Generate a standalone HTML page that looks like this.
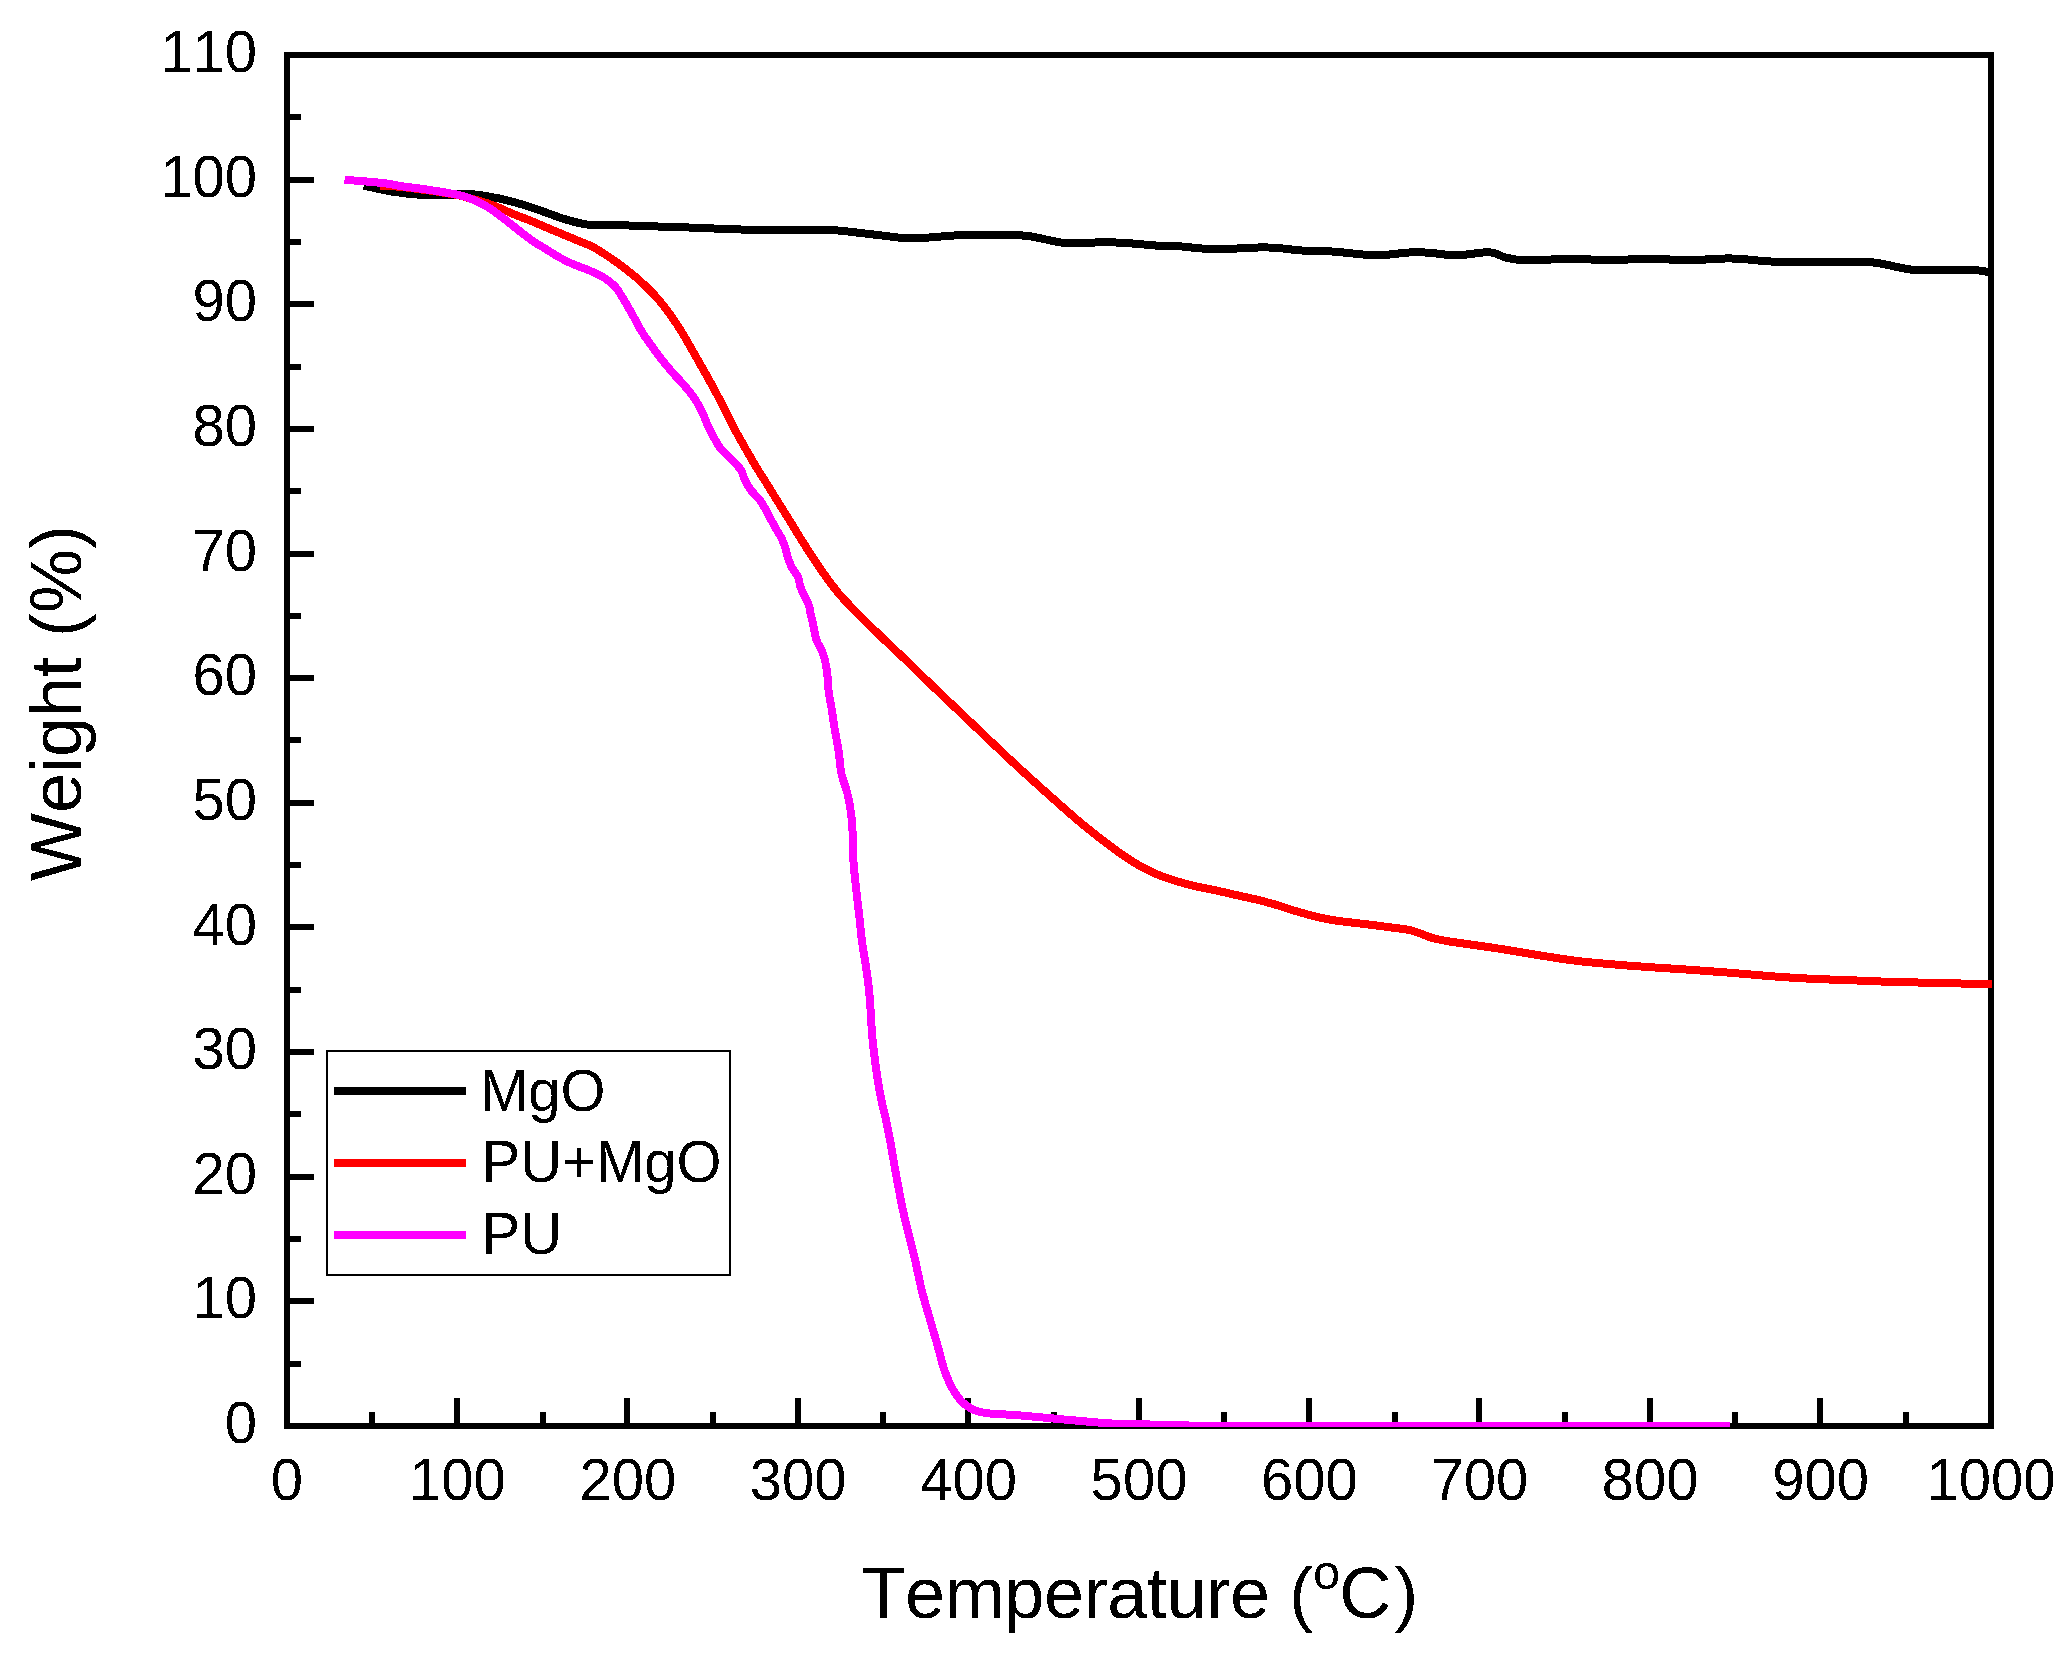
<!DOCTYPE html>
<html lang="en"><head><meta charset="utf-8"><title>TGA: Weight (%) vs Temperature</title>
<style>
html,body{margin:0;padding:0;background:#fff;}
body{width:2069px;height:1654px;overflow:hidden;}
svg{display:block;}
text{font-kerning:none;font-family:"Liberation Sans",Arial,Helvetica,sans-serif;fill:#000;}
.tk{font-size:58px;}
.ti{font-size:72px;}
</style></head><body>
<svg width="2069" height="1654" viewBox="0 0 2069 1654">
<rect width="2069" height="1654" fill="#fff"/>
<defs><filter id="th" filterUnits="userSpaceOnUse" x="0" y="0" width="2069" height="1654" color-interpolation-filters="sRGB"><feComponentTransfer><feFuncA type="discrete" tableValues="0 1"/></feComponentTransfer></filter><clipPath id="cp"><rect x="287" y="55" width="1705" height="1372"/></clipPath></defs>
<g shape-rendering="crispEdges">
<rect x="287" y="55" width="1704" height="1371" fill="none" stroke="#000" stroke-width="6"/>
<rect x="287" y="1361.0" width="14" height="6" fill="#000"/>
<rect x="287" y="1298.0" width="27" height="6" fill="#000"/>
<rect x="287" y="1236.0" width="14" height="6" fill="#000"/>
<rect x="287" y="1174.0" width="27" height="6" fill="#000"/>
<rect x="287" y="1111.0" width="14" height="6" fill="#000"/>
<rect x="287" y="1049.0" width="27" height="6" fill="#000"/>
<rect x="287" y="987.0" width="14" height="6" fill="#000"/>
<rect x="287" y="924.0" width="27" height="6" fill="#000"/>
<rect x="287" y="862.0" width="14" height="6" fill="#000"/>
<rect x="287" y="800.0" width="27" height="6" fill="#000"/>
<rect x="287" y="737.0" width="14" height="6" fill="#000"/>
<rect x="287" y="675.0" width="27" height="6" fill="#000"/>
<rect x="287" y="613.0" width="14" height="6" fill="#000"/>
<rect x="287" y="551.0" width="27" height="6" fill="#000"/>
<rect x="287" y="488.0" width="14" height="6" fill="#000"/>
<rect x="287" y="426.0" width="27" height="6" fill="#000"/>
<rect x="287" y="364.0" width="14" height="6" fill="#000"/>
<rect x="287" y="301.0" width="27" height="6" fill="#000"/>
<rect x="287" y="239.0" width="14" height="6" fill="#000"/>
<rect x="287" y="177.0" width="27" height="6" fill="#000"/>
<rect x="287" y="114.0" width="14" height="6" fill="#000"/>
<rect x="369.0" y="1412" width="6" height="14" fill="#000"/>
<rect x="454.0" y="1398" width="6" height="28" fill="#000"/>
<rect x="540.0" y="1412" width="6" height="14" fill="#000"/>
<rect x="624.0" y="1398" width="6" height="28" fill="#000"/>
<rect x="710.0" y="1412" width="6" height="14" fill="#000"/>
<rect x="795.0" y="1398" width="6" height="28" fill="#000"/>
<rect x="880.0" y="1412" width="6" height="14" fill="#000"/>
<rect x="965.0" y="1398" width="6" height="28" fill="#000"/>
<rect x="1051.0" y="1412" width="6" height="14" fill="#000"/>
<rect x="1136.0" y="1398" width="6" height="28" fill="#000"/>
<rect x="1221.0" y="1412" width="6" height="14" fill="#000"/>
<rect x="1306.0" y="1398" width="6" height="28" fill="#000"/>
<rect x="1392.0" y="1412" width="6" height="14" fill="#000"/>
<rect x="1476.0" y="1398" width="6" height="28" fill="#000"/>
<rect x="1562.0" y="1412" width="6" height="14" fill="#000"/>
<rect x="1647.0" y="1398" width="6" height="28" fill="#000"/>
<rect x="1732.0" y="1412" width="6" height="14" fill="#000"/>
<rect x="1817.0" y="1398" width="6" height="28" fill="#000"/>
<rect x="1903.0" y="1412" width="6" height="14" fill="#000"/>
</g>
<g filter="url(#th)">
<text class="tk" transform="translate(257 1443.0) scale(1 1.025)" text-anchor="end">0</text>
<text class="tk" transform="translate(257 1318.4) scale(1 1.025)" text-anchor="end">10</text>
<text class="tk" transform="translate(257 1193.7) scale(1 1.025)" text-anchor="end">20</text>
<text class="tk" transform="translate(257 1069.1) scale(1 1.025)" text-anchor="end">30</text>
<text class="tk" transform="translate(257 944.5) scale(1 1.025)" text-anchor="end">40</text>
<text class="tk" transform="translate(257 819.8) scale(1 1.025)" text-anchor="end">50</text>
<text class="tk" transform="translate(257 695.2) scale(1 1.025)" text-anchor="end">60</text>
<text class="tk" transform="translate(257 570.5) scale(1 1.025)" text-anchor="end">70</text>
<text class="tk" transform="translate(257 445.9) scale(1 1.025)" text-anchor="end">80</text>
<text class="tk" transform="translate(257 321.3) scale(1 1.025)" text-anchor="end">90</text>
<text class="tk" transform="translate(257 196.6) scale(1 1.025)" text-anchor="end">100</text>
<text class="tk" transform="translate(257 72.0) scale(1 1.025)" text-anchor="end">110</text>
<text class="tk" transform="translate(287.0 1499.5) scale(1 1.025)" text-anchor="middle">0</text>
<text class="tk" transform="translate(457.4 1499.5) scale(1 1.025)" text-anchor="middle">100</text>
<text class="tk" transform="translate(627.8 1499.5) scale(1 1.025)" text-anchor="middle">200</text>
<text class="tk" transform="translate(798.2 1499.5) scale(1 1.025)" text-anchor="middle">300</text>
<text class="tk" transform="translate(968.6 1499.5) scale(1 1.025)" text-anchor="middle">400</text>
<text class="tk" transform="translate(1139.0 1499.5) scale(1 1.025)" text-anchor="middle">500</text>
<text class="tk" transform="translate(1309.4 1499.5) scale(1 1.025)" text-anchor="middle">600</text>
<text class="tk" transform="translate(1479.8 1499.5) scale(1 1.025)" text-anchor="middle">700</text>
<text class="tk" transform="translate(1650.2 1499.5) scale(1 1.025)" text-anchor="middle">800</text>
<text class="tk" transform="translate(1820.6 1499.5) scale(1 1.025)" text-anchor="middle">900</text>
<text class="tk" transform="translate(1991.0 1499.5) scale(1 1.025)" text-anchor="middle">1000</text>
<text class="ti" x="861.4" y="1618" text-anchor="start"><tspan letter-spacing="-0.36">Temperature (</tspan><tspan font-size="49" dy="-29.5">o</tspan><tspan dy="29.5" dx="-1">C</tspan><tspan dx="3">)</tspan></text>
<text class="ti" transform="translate(81 881) rotate(-90)" text-anchor="start">Weight (%)</text>
</g>
<g clip-path="url(#cp)" fill="none" stroke-width="8" stroke-linejoin="round" stroke-linecap="butt" shape-rendering="crispEdges">
<path stroke="#000000" d="M363.8 185.6C367.8 186.5 382.0 189.7 388.0 190.9C394.0 192.1 396.1 192.1 400.0 192.6C403.9 193.1 407.3 193.7 411.6 194.1C415.9 194.5 419.9 194.7 426.0 194.8C432.1 194.9 442.8 194.9 448.0 194.8C453.2 194.7 452.9 194.4 457.0 194.3C461.1 194.2 467.5 194.0 472.5 194.3C477.5 194.6 481.4 195.2 487.0 196.2C492.6 197.2 499.9 198.5 506.3 200.1C512.8 201.7 519.2 203.5 525.7 205.5C532.2 207.5 538.6 209.9 545.0 212.2C551.4 214.4 557.8 217.0 564.3 219.0C570.8 221.0 577.8 222.9 583.7 224.0C589.7 225.1 593.1 225.2 600.0 225.4C606.9 225.6 616.0 225.2 625.0 225.4C634.0 225.6 644.8 226.1 654.0 226.4C663.2 226.7 672.3 226.8 680.0 227.1C687.7 227.4 693.5 227.7 700.0 228.0C706.5 228.3 709.6 228.4 719.3 228.7C729.0 229.0 740.5 229.7 758.0 229.9C775.5 230.1 810.3 229.6 824.0 229.7C837.7 229.8 834.9 230.3 840.0 230.7C845.1 231.1 847.4 231.5 854.7 232.3C862.0 233.1 875.7 234.8 883.7 235.7C891.8 236.6 896.6 237.6 903.0 238.0C909.4 238.4 914.2 238.4 922.3 238.0C930.3 237.6 943.2 236.2 951.3 235.7C959.4 235.2 961.0 235.0 970.7 234.9C980.4 234.8 999.6 234.7 1009.3 234.9C1019.0 235.1 1022.2 235.3 1028.7 236.1C1035.2 236.9 1042.2 238.8 1048.0 239.9C1053.8 241.0 1057.0 242.3 1063.5 242.8C1070.0 243.3 1080.6 242.9 1086.7 242.8C1092.8 242.7 1093.9 242.4 1100.0 242.4C1106.1 242.4 1113.5 242.2 1123.2 242.8C1132.9 243.4 1149.0 245.1 1158.0 245.7C1167.0 246.2 1169.2 245.6 1177.3 246.1C1185.3 246.6 1196.6 248.4 1206.3 248.8C1216.0 249.2 1227.9 248.8 1235.3 248.6C1242.7 248.4 1244.3 247.8 1250.8 247.7C1257.2 247.5 1265.3 247.2 1274.0 247.7C1282.7 248.2 1293.3 250.0 1303.0 250.6C1312.7 251.2 1321.4 250.8 1332.0 251.5C1342.6 252.2 1357.8 254.2 1366.8 254.8C1375.8 255.4 1379.0 255.2 1386.1 254.8C1393.2 254.4 1402.2 252.8 1409.3 252.5C1416.4 252.2 1422.2 252.3 1428.7 252.7C1435.2 253.1 1442.2 254.5 1448.0 254.8C1453.8 255.2 1457.7 255.2 1463.5 254.8C1469.3 254.4 1477.8 252.8 1482.8 252.5C1487.8 252.2 1489.8 252.1 1493.5 252.9C1497.2 253.7 1500.9 256.2 1505.1 257.3C1509.3 258.4 1511.9 259.4 1518.7 259.8C1525.5 260.2 1538.6 260.0 1545.7 259.8C1552.8 259.6 1555.4 258.9 1561.2 258.7C1567.0 258.5 1574.7 258.5 1580.5 258.7C1586.3 258.9 1588.9 259.6 1596.0 259.8C1603.1 260.0 1615.9 260.0 1623.0 259.8C1630.1 259.6 1632.0 258.9 1638.5 258.7C1645.0 258.5 1655.9 258.5 1661.7 258.7C1667.5 258.9 1666.8 259.6 1673.3 259.8C1679.8 260.0 1693.3 260.0 1700.4 259.8C1707.5 259.6 1709.5 258.9 1715.9 258.7C1722.3 258.5 1732.6 258.4 1739.0 258.7C1745.4 258.9 1747.4 259.6 1754.5 260.2C1761.6 260.8 1774.0 261.9 1781.6 262.2C1789.2 262.5 1786.9 261.9 1800.0 261.9C1813.1 261.8 1847.1 261.7 1860.3 261.9C1873.5 262.1 1873.5 262.5 1878.9 263.2C1884.3 263.9 1887.4 265.0 1892.8 266.1C1898.2 267.2 1905.6 268.9 1911.4 269.6C1917.2 270.3 1921.0 270.2 1927.6 270.2C1934.2 270.2 1943.1 269.6 1950.8 269.6C1958.5 269.6 1967.8 269.6 1974.0 270.0C1980.2 270.4 1984.3 271.4 1988.0 271.9C1991.7 272.4 1994.7 272.8 1996.0 273.0"/>
<path stroke="#ff0000" d="M380.0 185.6C383.3 185.8 393.4 186.2 400.0 186.8C406.6 187.4 412.9 188.3 419.3 189.2C425.8 190.0 432.2 190.9 438.7 191.9C445.1 192.9 453.2 194.2 458.0 195.2C462.8 196.2 464.5 197.0 467.7 197.8C470.9 198.7 474.1 199.4 477.3 200.3C480.5 201.2 483.8 202.1 487.0 203.2C490.2 204.3 493.5 205.5 496.7 206.8C499.9 208.1 503.1 209.6 506.3 211.0C509.5 212.4 511.2 213.2 516.0 215.1C520.8 217.0 528.8 220.0 535.3 222.7C541.8 225.3 548.2 228.3 554.7 231.0C561.2 233.7 567.6 236.3 574.0 239.0C580.4 241.7 588.0 244.5 593.3 247.2C598.6 249.9 601.7 252.2 606.0 255.0C610.3 257.8 613.8 260.1 619.3 264.2C624.8 268.3 632.2 273.9 638.7 279.7C645.2 285.5 651.5 291.4 658.0 299.0C664.5 306.6 670.9 315.3 677.4 325.1C683.9 334.9 690.2 346.7 696.7 358.0C703.2 369.3 709.7 380.7 716.1 392.8C722.5 404.9 729.0 418.6 735.4 430.5C741.8 442.4 749.9 456.2 754.7 464.5C759.6 472.8 760.9 474.2 764.5 480.0C768.1 485.8 772.5 493.1 776.5 499.5C780.5 505.9 784.5 512.2 788.5 518.7C792.5 525.2 796.5 531.8 800.5 538.3C804.5 544.8 808.5 550.9 812.8 557.4C817.1 563.9 821.8 571.1 826.5 577.5C831.2 583.9 835.3 589.6 840.9 596.0C846.5 602.4 852.8 608.5 860.0 615.8C867.2 623.0 876.0 631.7 884.1 639.5C892.2 647.3 900.4 654.8 908.4 662.5C916.4 670.2 924.0 677.8 932.0 685.5C940.0 693.2 948.7 701.4 956.7 709.0C964.7 716.6 972.8 724.3 980.0 731.2C987.2 738.1 992.7 743.3 1000.0 750.2C1007.3 757.1 1015.9 765.1 1024.0 772.5C1032.1 779.9 1040.9 787.8 1048.4 794.5C1055.9 801.2 1063.5 807.9 1068.8 812.5C1074.1 817.1 1074.9 818.0 1080.0 822.2C1085.1 826.4 1092.8 832.7 1099.3 837.7C1105.8 842.7 1112.2 847.7 1118.7 852.2C1125.2 856.7 1131.6 861.1 1138.0 864.8C1144.4 868.5 1150.8 871.7 1157.3 874.4C1163.8 877.1 1170.2 879.2 1176.7 881.2C1183.2 883.2 1189.6 884.9 1196.0 886.4C1202.4 887.9 1208.8 888.9 1215.3 890.3C1221.8 891.7 1228.2 893.2 1234.7 894.7C1241.2 896.2 1247.6 897.5 1254.0 899.0C1260.4 900.5 1266.8 902.1 1273.3 904.0C1279.8 905.9 1286.2 908.3 1292.7 910.2C1299.2 912.1 1305.6 914.0 1312.0 915.6C1318.4 917.2 1324.8 918.8 1331.3 919.9C1337.8 921.0 1344.2 921.6 1350.7 922.4C1357.2 923.2 1363.6 923.9 1370.0 924.7C1376.4 925.5 1382.8 926.3 1389.3 927.2C1395.8 928.1 1403.5 928.9 1408.7 929.9C1413.9 930.9 1416.4 932.1 1420.3 933.4C1424.2 934.7 1427.4 936.5 1431.9 937.8C1436.4 939.1 1441.5 940.1 1447.3 941.1C1453.1 942.1 1458.1 942.8 1466.7 944.0C1475.3 945.2 1486.9 946.8 1498.7 948.6C1510.5 950.4 1524.4 953.0 1537.3 955.0C1550.2 957.0 1563.1 959.2 1576.0 960.8C1588.9 962.4 1601.8 963.4 1614.7 964.5C1627.6 965.6 1640.4 966.5 1653.3 967.4C1666.2 968.3 1679.1 969.0 1692.0 969.9C1704.9 970.8 1717.8 971.8 1730.7 972.8C1743.6 973.8 1756.4 975.1 1769.3 976.1C1782.2 977.1 1795.1 977.9 1808.0 978.6C1820.9 979.3 1832.6 979.6 1846.7 980.1C1860.8 980.6 1868.6 981.2 1892.8 981.9C1917.0 982.6 1974.5 983.8 1992.0 984.2C2009.5 984.6 1997.0 984.4 1998.0 984.4"/>
<path stroke="#ff00ff" d="M344.5 179.8C348.5 180.1 361.4 181.0 368.7 181.7C375.9 182.3 382.8 183.0 388.0 183.7C393.2 184.4 394.8 185.2 400.0 186.0C405.2 186.8 412.9 187.6 419.3 188.5C425.8 189.4 432.2 190.3 438.7 191.4C445.1 192.5 453.2 193.8 458.0 194.8C462.8 195.8 464.5 196.5 467.7 197.6C470.9 198.7 474.1 200.1 477.3 201.6C480.5 203.1 483.8 204.8 487.0 206.7C490.2 208.6 493.5 210.9 496.7 213.2C499.9 215.5 503.1 218.0 506.3 220.5C509.5 223.0 512.8 225.6 516.0 228.2C519.2 230.8 522.5 233.5 525.7 235.9C528.9 238.3 532.1 240.6 535.3 242.7C538.5 244.8 541.9 246.6 545.0 248.5C548.1 250.4 551.4 252.6 553.7 254.0C556.0 255.4 555.7 255.5 559.0 257.2C562.3 258.9 568.7 262.3 573.5 264.4C578.3 266.5 583.2 267.8 588.0 269.9C592.8 272.0 598.9 274.8 602.5 276.8C606.1 278.8 607.5 279.9 609.8 281.8C612.1 283.7 613.7 284.6 616.3 288.0C618.9 291.4 622.6 297.7 625.5 302.5C628.4 307.3 631.0 312.2 633.7 317.0C636.4 321.8 639.2 327.4 641.7 331.5C644.2 335.6 645.6 337.4 648.5 341.5C651.4 345.6 655.4 351.3 659.3 356.4C663.2 361.5 667.9 367.2 671.9 371.9C675.9 376.6 679.8 380.1 683.5 384.5C687.2 388.9 691.1 393.5 694.2 398.0C697.3 402.5 699.6 407.1 701.9 411.6C704.1 416.1 705.6 420.6 707.7 425.1C709.8 429.6 712.2 434.6 714.5 438.6C716.8 442.6 718.3 445.8 721.2 449.3C724.1 452.9 728.7 456.5 731.9 459.9C735.1 463.3 738.4 466.2 740.6 469.6C742.8 473.0 743.2 476.6 744.9 480.0C746.5 483.4 748.1 486.5 750.5 489.7C752.9 492.9 756.7 496.1 759.2 499.3C761.7 502.5 763.6 505.8 765.5 509.0C767.4 512.2 768.8 515.5 770.5 518.7C772.2 521.9 774.0 525.2 775.8 528.4C777.6 531.6 779.8 534.8 781.4 538.0C783.0 541.2 784.2 544.5 785.3 547.7C786.4 550.9 786.8 554.2 787.9 557.4C789.0 560.6 789.9 563.8 791.6 567.0C793.3 570.2 796.5 573.5 797.9 576.7C799.3 579.9 799.2 583.2 800.3 586.4C801.4 589.6 803.1 592.9 804.6 596.1C806.1 599.3 808.0 602.5 809.0 605.7C810.0 608.9 810.2 612.2 810.9 615.4C811.6 618.6 812.4 621.0 813.3 625.1C814.2 629.2 814.9 635.2 816.5 640.0C818.1 644.8 821.5 648.9 823.2 654.1C825.0 659.4 826.1 665.4 827.0 671.5C827.9 677.6 827.8 684.4 828.6 690.9C829.4 697.4 830.9 703.8 831.9 710.2C832.9 716.7 833.7 722.8 834.8 729.6C835.9 736.4 837.5 743.4 838.6 750.8C839.7 758.2 840.0 766.9 841.5 774.0C843.0 781.1 845.8 786.6 847.4 793.4C849.0 800.2 850.3 807.6 851.2 814.7C852.1 821.8 852.4 827.8 852.8 835.9C853.2 844.0 853.0 854.5 853.6 863.2C854.2 872.0 855.2 880.0 856.1 888.4C857.0 896.8 858.0 904.8 859.0 913.5C860.0 922.2 860.8 931.9 861.9 940.6C863.0 949.3 864.7 958.0 865.8 965.7C866.9 973.4 867.9 979.6 868.7 987.0C869.5 994.4 870.1 1002.5 870.6 1010.2C871.1 1017.9 871.4 1025.7 872.0 1033.4C872.6 1041.1 873.6 1049.2 874.5 1056.6C875.4 1064.0 876.3 1070.8 877.4 1077.9C878.5 1085.0 879.8 1092.1 881.2 1099.2C882.7 1106.3 884.6 1113.7 886.1 1120.5C887.6 1127.3 888.2 1130.3 890.0 1140.0C891.8 1149.7 894.4 1165.8 896.8 1178.7C899.2 1191.6 901.6 1204.5 904.5 1217.4C907.4 1230.3 911.3 1243.8 914.2 1256.1C917.1 1268.3 919.3 1280.6 921.9 1290.9C924.5 1301.2 927.0 1309.0 929.6 1318.0C932.2 1327.0 935.1 1337.0 937.4 1345.0C939.7 1353.0 941.3 1360.2 943.2 1366.3C945.1 1372.4 946.8 1377.0 949.0 1381.8C951.2 1386.6 954.1 1391.6 956.7 1395.3C959.3 1399.0 961.2 1401.4 964.4 1404.0C967.6 1406.6 971.6 1409.2 976.1 1410.8C980.6 1412.4 985.1 1413.0 991.5 1413.7C997.9 1414.4 1004.4 1414.2 1014.7 1415.0C1025.0 1415.8 1040.5 1417.3 1053.4 1418.5C1066.3 1419.7 1082.4 1421.2 1092.1 1422.0C1101.8 1422.8 1101.8 1423.1 1111.5 1423.5C1121.2 1423.9 1137.2 1424.2 1150.1 1424.5C1163.0 1424.8 1170.5 1425.2 1188.8 1425.5C1207.1 1425.8 1169.8 1425.9 1260.0 1426.0C1350.2 1426.1 1651.7 1426.0 1730.0 1426.0"/>
</g>
<rect x="327" y="1051" width="403" height="224" fill="#fff" stroke="#000" stroke-width="2" shape-rendering="crispEdges"/>
<rect x="334" y="1087.3" width="132" height="8" fill="#000000" shape-rendering="crispEdges"/>
<g filter="url(#th)"><text class="tk" transform="translate(480 1110.5) scale(1 1.025)">MgO</text></g>
<rect x="334" y="1159.1" width="132" height="8" fill="#ff0000" shape-rendering="crispEdges"/>
<g filter="url(#th)"><text class="tk" transform="translate(481.6 1182.3) scale(1 1.025)">PU+MgO</text></g>
<rect x="334" y="1230.9" width="132" height="8" fill="#ff00ff" shape-rendering="crispEdges"/>
<g filter="url(#th)"><text class="tk" transform="translate(481.6 1254.1) scale(1 1.025)">PU</text></g>
</svg></body></html>
